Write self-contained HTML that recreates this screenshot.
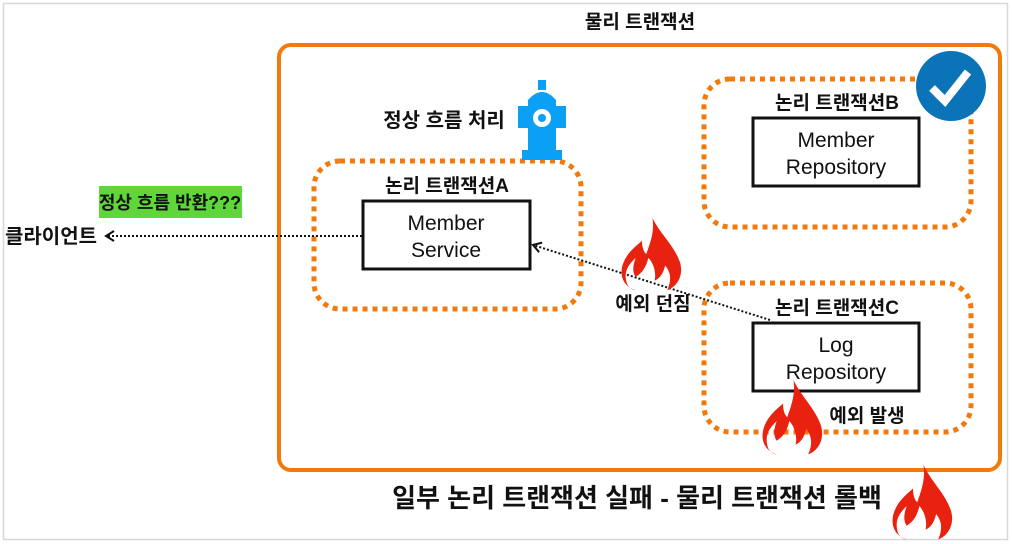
<!DOCTYPE html>
<html><head><meta charset="utf-8"><style>
body{margin:0;background:#fff}
svg{display:block}
text{font-family:"Liberation Sans","Noto Sans CJK KR",sans-serif;font-weight:bold;fill:#111}
</style></head><body>
<svg width="1012" height="544" viewBox="0 0 1012 544">
<defs>
<g id="fire"><path fill="#e8220f" d="M30 0 C38 18 50 28 56 46 C60 60 54 72 44 76 C48 66 48 58 42 50 C40 60 36 64 32 66 C34 56 30 46 26 42 C24 52 20 58 14 62 C10 56 12 48 14 42 C6 50 2 58 6 70 C8 74 12 76 14 76 C2 72 -2 60 2 48 C6 36 14 30 20 24 C20 32 22 36 24 38 C28 26 32 14 30 0 Z"/></g>
<marker id="ar" markerUnits="userSpaceOnUse" markerWidth="12" markerHeight="12" refX="10" refY="6" orient="auto"><path d="M2 1 L10 6 L2 11" fill="none" stroke="#111" stroke-width="2"/></marker>
</defs>
<rect x="3.5" y="3.5" width="1004" height="536" fill="none" stroke="#d8d8d8" stroke-width="1.5"/>
<text x="640" y="28" font-size="19" text-anchor="middle">물리 트랜잭션</text>
<rect x="279" y="45" width="721" height="425" rx="12" fill="none" stroke="#f27a0c" stroke-width="4"/>
<g fill="none" stroke="#f27a0c" stroke-width="5" stroke-dasharray="5 5">
<rect x="314" y="161" width="267" height="148" rx="26"/>
<rect x="704" y="79" width="267" height="148" rx="26"/>
<rect x="704" y="283" width="267" height="149" rx="26"/>
</g>
<g fill="#fff" stroke="#111" stroke-width="3">
<rect x="363" y="201" width="167" height="68"/>
<rect x="753" y="118" width="166" height="68"/>
<rect x="753" y="323" width="166" height="68"/>
</g>
<text x="447" y="192" font-size="19" text-anchor="middle">논리 트랜잭션A</text>
<text x="837" y="109" font-size="19" text-anchor="middle">논리 트랜잭션B</text>
<text x="837" y="314" font-size="19" text-anchor="middle">논리 트랜잭션C</text>
<g font-size="21" text-anchor="middle">
<text x="446" y="230" style="font-weight:normal">Member</text>
<text x="446" y="257" style="font-weight:normal">Service</text>
<text x="836" y="147" style="font-weight:normal">Member</text>
<text x="836" y="174" style="font-weight:normal">Repository</text>
<text x="836" y="352" style="font-weight:normal">Log</text>
<text x="836" y="379" style="font-weight:normal">Repository</text>
</g>
<circle cx="951" cy="86" r="35" fill="#0b74b8"/>
<path d="M932 88 L945 101 L968 72" fill="none" stroke="#fff" stroke-width="8"/>
<g fill="#0aa0f5">
<rect x="538" y="80" width="8" height="10"/>
<path d="M528 100 Q542 84 556 100 Z"/>
<rect x="528" y="100" width="28" height="56"/>
<rect x="518" y="106" width="48" height="22"/>
<rect x="522" y="150" width="40" height="10"/>
</g>
<circle cx="542" cy="118" r="9" fill="#fff"/><circle cx="542" cy="118" r="4" fill="#0aa0f5"/>
<text x="444" y="127" font-size="20" text-anchor="middle">정상 흐름 처리</text>
<rect x="99" y="186" width="143" height="32" fill="#5fd63a"/>
<text x="170" y="209" font-size="18" text-anchor="middle">정상 흐름 반환???</text>
<text x="5" y="243" font-size="20">클라이언트</text>
<line x1="362" y1="236" x2="106" y2="236" stroke="#111" stroke-width="2" stroke-dasharray="2 2" marker-end="url(#ar)"/>
<line x1="770" y1="320" x2="533" y2="245" stroke="#111" stroke-width="2" stroke-dasharray="2 2" marker-end="url(#ar)"/>
<use href="#fire" transform="translate(621,218) scale(1.05,0.95)"/>
<use href="#fire" transform="translate(762,380) scale(1.05,0.98)"/>
<use href="#fire" transform="translate(892,465) scale(1.05,0.98)"/>
<text x="653" y="310" font-size="19" text-anchor="middle">예외 던짐</text>
<text x="867" y="422" font-size="19" text-anchor="middle">예외 발생</text>
<text x="637" y="507" font-size="26" text-anchor="middle">일부 논리 트랜잭션 실패 - 물리 트랜잭션 롤백</text>
</svg>
</body></html>
